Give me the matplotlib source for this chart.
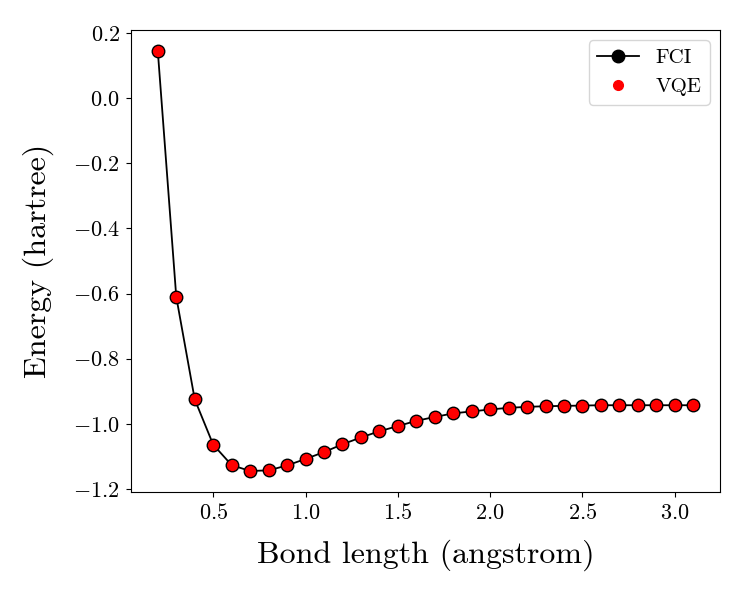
import numpy as np
import matplotlib
matplotlib.use("Agg")
import matplotlib.pyplot as plt

plt.rcParams["font.family"] = "serif"
plt.rcParams["font.serif"] = ["cmr10"]
plt.rcParams["mathtext.fontset"] = "cm"
plt.rcParams["axes.formatter.use_mathtext"] = True
plt.rcParams["axes.unicode_minus"] = True

#%% Data
bond_length = [0.2, 0.3, 0.4, 0.5, 0.6, 0.7, 0.8, 0.9, 1.0, 1.1,
               1.2, 1.3, 1.4, 1.5, 1.6, 1.7, 1.8, 1.9, 2.0, 2.1,
               2.2, 2.3, 2.4, 2.5, 2.6, 2.7, 2.8, 2.9, 3.0, 3.1]
energy_fci = [0.145, -0.610, -0.925, -1.064, -1.127, -1.145, -1.143, -1.128, -1.108, -1.087,
              -1.063, -1.042, -1.023, -1.007, -0.991, -0.979, -0.968, -0.962, -0.956, -0.951,
              -0.948, -0.946, -0.945, -0.944, -0.943, -0.943, -0.943, -0.943, -0.943, -0.943]
energy_vqe = list(energy_fci)

#%% Plot
fig = plt.figure(figsize=(7.5, 6), dpi=100)
ax = fig.add_axes([0.1747, 0.18, 0.7853, 0.77])
ax.plot(bond_length, energy_fci, '-o', color='black', markersize=9, linewidth=1.3, label='FCI')
ax.plot(bond_length, energy_vqe, 'o', color='red', markersize=7, linestyle='none', label='VQE')
ax.set_xlabel('Bond length (angstrom)', fontsize=23, labelpad=12)
ax.set_ylabel('Energy (hartree)', fontsize=23, labelpad=14)
ax.tick_params(labelsize=16, pad=4.5)
ax.legend(fontsize=15, loc='upper right')
fig.savefig('out.png', dpi=100)
